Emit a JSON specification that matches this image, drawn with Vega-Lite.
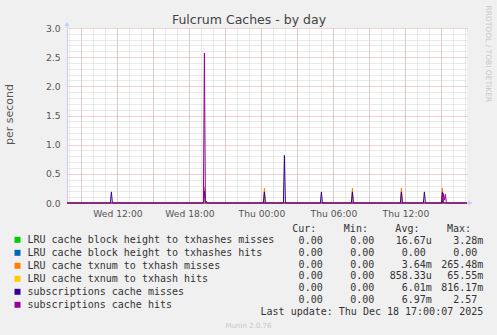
{
  "$schema": "https://vega.github.io/schema/vega-lite/v6.json",
  "autosize": {"type": "none"},
  "width": 400,
  "height": 175,
  "padding": {"left": 67, "top": 28, "right": 30, "bottom": 132},
  "background": "#F0F0F0",
  "config": {"view": {"stroke": null, "fill": "#FFFFFF"}},
  "data": {"values": [
      {"series": "LRU cache block height to txhashes misses", "t": "2025-12-17T07:48:00Z", "v": 0},
      {"series": "LRU cache block height to txhashes misses", "t": "2025-12-17T19:10:00Z", "v": 0},
      {"series": "LRU cache block height to txhashes misses", "t": "2025-12-17T19:15:00Z", "v": 0.0033},
      {"series": "LRU cache block height to txhashes misses", "t": "2025-12-17T19:20:00Z", "v": 0},
      {"series": "LRU cache block height to txhashes misses", "t": "2025-12-18T17:08:00Z", "v": 0},
      {"series": "LRU cache block height to txhashes hits", "t": "2025-12-17T07:48:00Z", "v": 0},
      {"series": "LRU cache block height to txhashes hits", "t": "2025-12-18T17:08:00Z", "v": 0},
      {"series": "LRU cache txnum to txhash misses", "t": "2025-12-17T07:48:00Z", "v": 0},
      {"series": "LRU cache txnum to txhash misses", "t": "2025-12-17T19:10:00Z", "v": 0},
      {"series": "LRU cache txnum to txhash misses", "t": "2025-12-17T19:15:00Z", "v": 0.265},
      {"series": "LRU cache txnum to txhash misses", "t": "2025-12-17T19:20:00Z", "v": 0},
      {"series": "LRU cache txnum to txhash misses", "t": "2025-12-18T00:10:00Z", "v": 0},
      {"series": "LRU cache txnum to txhash misses", "t": "2025-12-18T00:15:00Z", "v": 0.255},
      {"series": "LRU cache txnum to txhash misses", "t": "2025-12-18T00:20:00Z", "v": 0},
      {"series": "LRU cache txnum to txhash misses", "t": "2025-12-18T07:30:00Z", "v": 0},
      {"series": "LRU cache txnum to txhash misses", "t": "2025-12-18T07:35:00Z", "v": 0.255},
      {"series": "LRU cache txnum to txhash misses", "t": "2025-12-18T07:40:00Z", "v": 0},
      {"series": "LRU cache txnum to txhash misses", "t": "2025-12-18T11:35:00Z", "v": 0},
      {"series": "LRU cache txnum to txhash misses", "t": "2025-12-18T11:40:00Z", "v": 0.255},
      {"series": "LRU cache txnum to txhash misses", "t": "2025-12-18T11:45:00Z", "v": 0},
      {"series": "LRU cache txnum to txhash misses", "t": "2025-12-18T15:00:00Z", "v": 0},
      {"series": "LRU cache txnum to txhash misses", "t": "2025-12-18T15:05:00Z", "v": 0.255},
      {"series": "LRU cache txnum to txhash misses", "t": "2025-12-18T15:10:00Z", "v": 0},
      {"series": "LRU cache txnum to txhash misses", "t": "2025-12-18T17:08:00Z", "v": 0},
      {"series": "LRU cache txnum to txhash hits", "t": "2025-12-17T07:48:00Z", "v": 0},
      {"series": "LRU cache txnum to txhash hits", "t": "2025-12-17T19:10:00Z", "v": 0},
      {"series": "LRU cache txnum to txhash hits", "t": "2025-12-17T19:15:00Z", "v": 0.0655},
      {"series": "LRU cache txnum to txhash hits", "t": "2025-12-17T19:20:00Z", "v": 0},
      {"series": "LRU cache txnum to txhash hits", "t": "2025-12-18T00:10:00Z", "v": 0},
      {"series": "LRU cache txnum to txhash hits", "t": "2025-12-18T00:15:00Z", "v": 0.03},
      {"series": "LRU cache txnum to txhash hits", "t": "2025-12-18T00:20:00Z", "v": 0.012},
      {"series": "LRU cache txnum to txhash hits", "t": "2025-12-18T00:30:00Z", "v": 0.012},
      {"series": "LRU cache txnum to txhash hits", "t": "2025-12-18T00:35:00Z", "v": 0},
      {"series": "LRU cache txnum to txhash hits", "t": "2025-12-18T07:30:00Z", "v": 0},
      {"series": "LRU cache txnum to txhash hits", "t": "2025-12-18T07:35:00Z", "v": 0.03},
      {"series": "LRU cache txnum to txhash hits", "t": "2025-12-18T07:40:00Z", "v": 0},
      {"series": "LRU cache txnum to txhash hits", "t": "2025-12-18T11:35:00Z", "v": 0},
      {"series": "LRU cache txnum to txhash hits", "t": "2025-12-18T11:40:00Z", "v": 0.03},
      {"series": "LRU cache txnum to txhash hits", "t": "2025-12-18T11:45:00Z", "v": 0},
      {"series": "LRU cache txnum to txhash hits", "t": "2025-12-18T15:00:00Z", "v": 0},
      {"series": "LRU cache txnum to txhash hits", "t": "2025-12-18T15:05:00Z", "v": 0.03},
      {"series": "LRU cache txnum to txhash hits", "t": "2025-12-18T15:10:00Z", "v": 0},
      {"series": "LRU cache txnum to txhash hits", "t": "2025-12-18T17:08:00Z", "v": 0},
      {"series": "subscriptions cache misses", "t": "2025-12-17T07:48:00Z", "v": 0},
      {"series": "subscriptions cache misses", "t": "2025-12-17T11:25:00Z", "v": 0},
      {"series": "subscriptions cache misses", "t": "2025-12-17T11:30:00Z", "v": 0.19},
      {"series": "subscriptions cache misses", "t": "2025-12-17T11:35:00Z", "v": 0},
      {"series": "subscriptions cache misses", "t": "2025-12-17T19:10:00Z", "v": 0},
      {"series": "subscriptions cache misses", "t": "2025-12-17T19:15:00Z", "v": 0.2},
      {"series": "subscriptions cache misses", "t": "2025-12-17T19:20:00Z", "v": 0},
      {"series": "subscriptions cache misses", "t": "2025-12-18T00:10:00Z", "v": 0},
      {"series": "subscriptions cache misses", "t": "2025-12-18T00:15:00Z", "v": 0.19},
      {"series": "subscriptions cache misses", "t": "2025-12-18T00:20:00Z", "v": 0},
      {"series": "subscriptions cache misses", "t": "2025-12-18T01:50:00Z", "v": 0},
      {"series": "subscriptions cache misses", "t": "2025-12-18T01:55:00Z", "v": 0.816},
      {"series": "subscriptions cache misses", "t": "2025-12-18T02:00:00Z", "v": 0},
      {"series": "subscriptions cache misses", "t": "2025-12-18T04:55:00Z", "v": 0},
      {"series": "subscriptions cache misses", "t": "2025-12-18T05:00:00Z", "v": 0.19},
      {"series": "subscriptions cache misses", "t": "2025-12-18T05:05:00Z", "v": 0},
      {"series": "subscriptions cache misses", "t": "2025-12-18T07:30:00Z", "v": 0},
      {"series": "subscriptions cache misses", "t": "2025-12-18T07:35:00Z", "v": 0.19},
      {"series": "subscriptions cache misses", "t": "2025-12-18T07:40:00Z", "v": 0},
      {"series": "subscriptions cache misses", "t": "2025-12-18T11:35:00Z", "v": 0},
      {"series": "subscriptions cache misses", "t": "2025-12-18T11:40:00Z", "v": 0.19},
      {"series": "subscriptions cache misses", "t": "2025-12-18T11:45:00Z", "v": 0},
      {"series": "subscriptions cache misses", "t": "2025-12-18T13:30:00Z", "v": 0},
      {"series": "subscriptions cache misses", "t": "2025-12-18T13:35:00Z", "v": 0.19},
      {"series": "subscriptions cache misses", "t": "2025-12-18T13:40:00Z", "v": 0},
      {"series": "subscriptions cache misses", "t": "2025-12-18T15:00:00Z", "v": 0},
      {"series": "subscriptions cache misses", "t": "2025-12-18T15:05:00Z", "v": 0.19},
      {"series": "subscriptions cache misses", "t": "2025-12-18T15:10:00Z", "v": 0},
      {"series": "subscriptions cache misses", "t": "2025-12-18T17:08:00Z", "v": 0},
      {"series": "subscriptions cache hits", "t": "2025-12-17T07:48:00Z", "v": 0},
      {"series": "subscriptions cache hits", "t": "2025-12-17T19:10:00Z", "v": 0},
      {"series": "subscriptions cache hits", "t": "2025-12-17T19:15:00Z", "v": 2.57},
      {"series": "subscriptions cache hits", "t": "2025-12-17T19:20:00Z", "v": 0},
      {"series": "subscriptions cache hits", "t": "2025-12-17T19:25:00Z", "v": 0.03},
      {"series": "subscriptions cache hits", "t": "2025-12-17T19:30:00Z", "v": 0},
      {"series": "subscriptions cache hits", "t": "2025-12-18T15:05:00Z", "v": 0},
      {"series": "subscriptions cache hits", "t": "2025-12-18T15:10:00Z", "v": 0.16},
      {"series": "subscriptions cache hits", "t": "2025-12-18T15:15:00Z", "v": 0.05},
      {"series": "subscriptions cache hits", "t": "2025-12-18T15:20:00Z", "v": 0.15},
      {"series": "subscriptions cache hits", "t": "2025-12-18T15:25:00Z", "v": 0},
      {"series": "subscriptions cache hits", "t": "2025-12-18T17:08:00Z", "v": 0}
  ]},
  "layer": [
    {
      "transform": [{"filter": "datum.series == 'LRU cache block height to txhashes misses'"}],
      "mark": {"type": "line", "strokeWidth": 1},
      "encoding": {
        "x": {"field": "t", "type": "temporal", "scale": {"domain": [1765957680000, 1766077680000], "nice": false},
          "axis": {"orient": "bottom", "grid": true, "gridColor": "#D4D4D4", "gridDash": [1, 1], "values": [1765958400000, 1765962000000, 1765965600000, 1765969200000, 1765972800000, 1765976400000, 1765980000000, 1765983600000, 1765987200000, 1765990800000, 1765994400000, 1765998000000, 1766001600000, 1766005200000, 1766008800000, 1766012400000, 1766016000000, 1766019600000, 1766023200000, 1766026800000, 1766030400000, 1766034000000, 1766037600000, 1766041200000, 1766044800000, 1766048400000, 1766052000000, 1766055600000, 1766059200000, 1766062800000, 1766066400000, 1766070000000, 1766073600000, 1766077200000], "labels": false, "ticks": false, "domain": false, "title": null}},
        "y": {"field": "v", "type": "quantitative", "scale": {"domain": [0, 3], "nice": false},
          "axis": {"orient": "left", "grid": true, "gridColor": "#D4D4D4", "gridDash": [1, 1], "values": [0.1, 0.2, 0.3, 0.4, 0.6, 0.7, 0.8, 0.9, 1.1, 1.2, 1.3, 1.4, 1.6, 1.7, 1.8, 1.9, 2.1, 2.2, 2.3, 2.4, 2.6, 2.7, 2.8, 2.9], "labels": false, "ticks": false, "domain": false, "title": null}},
        "color": {"field": "series", "type": "nominal",
          "scale": {"domain": ["LRU cache block height to txhashes misses", "LRU cache block height to txhashes hits", "LRU cache txnum to txhash misses", "LRU cache txnum to txhash hits", "subscriptions cache misses", "subscriptions cache hits"], "range": ["#00CC00", "#0066B3", "#FF8000", "#FFCC00", "#330099", "#990099"]},
          "legend": {"orient": "none", "legendX": -54.5, "legendY": 206.8, "title": null, "symbolType": "square", "symbolSize": 9, "symbolStrokeWidth": 3, "labelFont": "DejaVu Sans Mono", "labelFontSize": 10, "labelColor": "#333333", "labelLimit": 400, "labelOffset": 5, "rowPadding": -4.3, "padding": 0}}
      }
    },
    {
      "transform": [{"filter": "datum.series == 'LRU cache block height to txhashes hits'"}],
      "mark": {"type": "line", "strokeWidth": 1},
      "encoding": {
        "x": {"field": "t", "type": "temporal", "scale": {"domain": [1765957680000, 1766077680000], "nice": false},
          "axis": {"orient": "top", "grid": true, "gridColor": "#E6A4A4", "gridDash": [1, 1], "values": [1765962000000, 1765972800000, 1765983600000, 1765994400000, 1766005200000, 1766016000000, 1766026800000, 1766037600000, 1766048400000, 1766059200000, 1766070000000], "labels": false, "ticks": false, "domain": false,
            "title": "Fulcrum Caches - by day", "titleFont": "DejaVu Sans", "titleFontSize": 12.5, "titleFontWeight": "normal", "titleColor": "#444444", "titleX": 181.5, "titleY": -5, "titleAlign": "center", "titleBaseline": "alphabetic", "titleAngle": 0}},
        "y": {"field": "v", "type": "quantitative", "scale": {"domain": [0, 3], "nice": false},
          "axis": {"orient": "right", "grid": true, "gridColor": "#E6A4A4", "gridDash": [1, 1], "values": [0.5, 1, 1.5, 2, 2.5, 3], "labels": false, "ticks": false, "domain": false,
            "title": "RRDTOOL / TOBI OETIKER", "titleFont": "DejaVu Sans", "titleFontSize": 7.5, "titleFontWeight": "normal", "titleColor": "#C8C8C8", "titleAngle": 90, "titleX": 18, "titleY": -23, "titleAlign": "left", "titleBaseline": "alphabetic"}},
        "color": {"field": "series", "type": "nominal",
          "scale": {"domain": ["LRU cache block height to txhashes misses", "LRU cache block height to txhashes hits", "LRU cache txnum to txhash misses", "LRU cache txnum to txhash hits", "subscriptions cache misses", "subscriptions cache hits"], "range": ["#00CC00", "#0066B3", "#FF8000", "#FFCC00", "#330099", "#990099"]}}
      }
    },
    {
      "transform": [{"filter": "datum.series == 'LRU cache txnum to txhash misses'"}],
      "mark": {"type": "line", "strokeWidth": 1},
      "encoding": {
        "x": {"field": "t", "type": "temporal", "scale": {"domain": [1765957680000, 1766077680000], "nice": false},
          "axis": {"orient": "bottom", "grid": false, "values": [1765972800000, 1765994400000, 1766016000000, 1766037600000, 1766059200000], "format": "%a %H:%M", "labelFont": "DejaVu Sans", "labelFontSize": 9.2, "labelColor": "#555555", "labelBaseline": "alphabetic", "labelPadding": 13, "labelOverlap": false, "labelFlush": false, "ticks": false, "domain": true, "domainColor": "#C8CCF4", "title": null}},
        "y": {"field": "v", "type": "quantitative", "scale": {"domain": [0, 3], "nice": false},
          "axis": {"orient": "left", "grid": false, "values": [0, 0.5, 1, 1.5, 2, 2.5, 3], "format": ".1f", "labelFont": "DejaVu Sans", "labelFontSize": 9.2, "labelColor": "#555555", "labelPadding": 7, "labelOverlap": false, "labelFlush": false, "ticks": false, "domain": true, "domainColor": "#C8CCF4",
            "title": "per second", "titleFont": "DejaVu Sans", "titleFontSize": 11, "titleFontWeight": "normal", "titleColor": "#555555", "titleAngle": -90, "titleX": -54.6, "titleY": 86, "titleAlign": "center", "titleBaseline": "alphabetic"}},
        "color": {"field": "series", "type": "nominal",
          "scale": {"domain": ["LRU cache block height to txhashes misses", "LRU cache block height to txhashes hits", "LRU cache txnum to txhash misses", "LRU cache txnum to txhash hits", "subscriptions cache misses", "subscriptions cache hits"], "range": ["#00CC00", "#0066B3", "#FF8000", "#FFCC00", "#330099", "#990099"]}}
      }
    },
    {
      "transform": [{"filter": "datum.series == 'LRU cache txnum to txhash hits'"}],
      "mark": {"type": "line", "strokeWidth": 1},
      "encoding": {
        "x": {"field": "t", "type": "temporal", "scale": {"domain": [1765957680000, 1766077680000], "nice": false}, "axis": null},
        "y": {"field": "v", "type": "quantitative", "scale": {"domain": [0, 3], "nice": false}, "axis": null},
        "color": {"field": "series", "type": "nominal",
          "scale": {"domain": ["LRU cache block height to txhashes misses", "LRU cache block height to txhashes hits", "LRU cache txnum to txhash misses", "LRU cache txnum to txhash hits", "subscriptions cache misses", "subscriptions cache hits"], "range": ["#00CC00", "#0066B3", "#FF8000", "#FFCC00", "#330099", "#990099"]}}
      }
    },
    {
      "transform": [{"filter": "datum.series == 'subscriptions cache misses'"}],
      "mark": {"type": "line", "strokeWidth": 1},
      "encoding": {
        "x": {"field": "t", "type": "temporal", "scale": {"domain": [1765957680000, 1766077680000], "nice": false}, "axis": null},
        "y": {"field": "v", "type": "quantitative", "scale": {"domain": [0, 3], "nice": false}, "axis": null},
        "color": {"field": "series", "type": "nominal",
          "scale": {"domain": ["LRU cache block height to txhashes misses", "LRU cache block height to txhashes hits", "LRU cache txnum to txhash misses", "LRU cache txnum to txhash hits", "subscriptions cache misses", "subscriptions cache hits"], "range": ["#00CC00", "#0066B3", "#FF8000", "#FFCC00", "#330099", "#990099"]}}
      }
    },
    {
      "transform": [{"filter": "datum.series == 'subscriptions cache hits'"}],
      "mark": {"type": "line", "strokeWidth": 1},
      "encoding": {
        "x": {"field": "t", "type": "temporal", "scale": {"domain": [1765957680000, 1766077680000], "nice": false}, "axis": null},
        "y": {"field": "v", "type": "quantitative", "scale": {"domain": [0, 3], "nice": false}, "axis": null},
        "color": {"field": "series", "type": "nominal",
          "scale": {"domain": ["LRU cache block height to txhashes misses", "LRU cache block height to txhashes hits", "LRU cache txnum to txhash misses", "LRU cache txnum to txhash hits", "subscriptions cache misses", "subscriptions cache hits"], "range": ["#00CC00", "#0066B3", "#FF8000", "#FFCC00", "#330099", "#990099"]}}
      }
    },
    {
      "data": {"values": [{"axis": "x"}]},
      "layer": [
        {
          "mark": {"type": "rule", "color": "#C8CCF4", "strokeWidth": 1},
          "encoding": {
            "x": {"datum": 1766077680000, "type": "temporal", "scale": {"domain": [1765957680000, 1766077680000], "nice": false}, "axis": null},
            "x2": {"datum": 1766078700000},
            "y": {"datum": 0, "type": "quantitative", "scale": {"domain": [0, 3], "nice": false}, "axis": null}
          }
        },
        {
          "mark": {"type": "point", "shape": "triangle-right", "filled": true, "size": 25, "color": "#C8CCF4", "opacity": 1},
          "encoding": {
            "x": {"datum": 1766078730000, "type": "temporal", "scale": {"domain": [1765957680000, 1766077680000], "nice": false}, "axis": null},
            "y": {"datum": 0, "type": "quantitative", "scale": {"domain": [0, 3], "nice": false}, "axis": null}
          }
        },
        {
          "mark": {"type": "rule", "color": "#C8CCF4", "strokeWidth": 1},
          "encoding": {
            "x": {"datum": 1765957680000, "type": "temporal", "scale": {"domain": [1765957680000, 1766077680000], "nice": false}, "axis": null},
            "y": {"datum": 3, "type": "quantitative", "scale": {"domain": [0, 3], "nice": false}, "axis": null},
            "y2": {"datum": 3.06}
          }
        },
        {
          "mark": {"type": "point", "shape": "triangle-up", "filled": true, "size": 25, "color": "#C8CCF4", "opacity": 1},
          "encoding": {
            "x": {"datum": 1765957680000, "type": "temporal", "scale": {"domain": [1765957680000, 1766077680000], "nice": false}, "axis": null},
            "y": {"datum": 3.069, "type": "quantitative", "scale": {"domain": [0, 3], "nice": false}, "axis": null}
          }
        }
      ]
    },
    {
      "data": {"values": [
        {"series": "LRU cache block height to txhashes misses", "col": "Cur", "num": "0.00", "unit": ""},
        {"series": "LRU cache block height to txhashes misses", "col": "Min", "num": "0.00", "unit": ""},
        {"series": "LRU cache block height to txhashes misses", "col": "Avg", "num": "16.67", "unit": "u"},
        {"series": "LRU cache block height to txhashes misses", "col": "Max", "num": "3.28", "unit": "m"},
        {"series": "LRU cache block height to txhashes hits", "col": "Cur", "num": "0.00", "unit": ""},
        {"series": "LRU cache block height to txhashes hits", "col": "Min", "num": "0.00", "unit": ""},
        {"series": "LRU cache block height to txhashes hits", "col": "Avg", "num": "0.00", "unit": ""},
        {"series": "LRU cache block height to txhashes hits", "col": "Max", "num": "0.00", "unit": ""},
        {"series": "LRU cache txnum to txhash misses", "col": "Cur", "num": "0.00", "unit": ""},
        {"series": "LRU cache txnum to txhash misses", "col": "Min", "num": "0.00", "unit": ""},
        {"series": "LRU cache txnum to txhash misses", "col": "Avg", "num": "3.64", "unit": "m"},
        {"series": "LRU cache txnum to txhash misses", "col": "Max", "num": "265.48", "unit": "m"},
        {"series": "LRU cache txnum to txhash hits", "col": "Cur", "num": "0.00", "unit": ""},
        {"series": "LRU cache txnum to txhash hits", "col": "Min", "num": "0.00", "unit": ""},
        {"series": "LRU cache txnum to txhash hits", "col": "Avg", "num": "858.33", "unit": "u"},
        {"series": "LRU cache txnum to txhash hits", "col": "Max", "num": "65.55", "unit": "m"},
        {"series": "subscriptions cache misses", "col": "Cur", "num": "0.00", "unit": ""},
        {"series": "subscriptions cache misses", "col": "Min", "num": "0.00", "unit": ""},
        {"series": "subscriptions cache misses", "col": "Avg", "num": "6.01", "unit": "m"},
        {"series": "subscriptions cache misses", "col": "Max", "num": "816.17", "unit": "m"},
        {"series": "subscriptions cache hits", "col": "Cur", "num": "0.00", "unit": ""},
        {"series": "subscriptions cache hits", "col": "Min", "num": "0.00", "unit": ""},
        {"series": "subscriptions cache hits", "col": "Avg", "num": "6.97", "unit": "m"},
        {"series": "subscriptions cache hits", "col": "Max", "num": "2.57", "unit": ""}
      ]},
      "layer": [
        {
          "mark": {"type": "text", "align": "right", "baseline": "alphabetic", "font": "DejaVu Sans Mono", "fontSize": 10, "color": "#333333"},
          "encoding": {
            "x": {"field": "col", "type": "nominal", "scale": {"type": "point", "domain": ["Cur", "Min", "Avg", "Max"], "range": [255.7, 410.3], "padding": 0}, "axis": null},
            "y": {"field": "series", "type": "nominal", "scale": {"type": "point", "domain": ["head", "LRU cache block height to txhashes misses", "LRU cache block height to txhashes hits", "LRU cache txnum to txhash misses", "LRU cache txnum to txhash hits", "subscriptions cache misses", "subscriptions cache hits", "update"], "range": [203.7, 287.3], "padding": 0}, "axis": null},
            "text": {"field": "num"}
          }
        },
        {
          "mark": {"type": "text", "align": "left", "baseline": "alphabetic", "font": "DejaVu Sans Mono", "fontSize": 10, "color": "#333333"},
          "encoding": {
            "x": {"field": "col", "type": "nominal", "scale": {"type": "point", "domain": ["Cur", "Min", "Avg", "Max"], "range": [255.7, 410.3], "padding": 0}, "axis": null},
            "y": {"field": "series", "type": "nominal", "scale": {"type": "point", "domain": ["head", "LRU cache block height to txhashes misses", "LRU cache block height to txhashes hits", "LRU cache txnum to txhash misses", "LRU cache txnum to txhash hits", "subscriptions cache misses", "subscriptions cache hits", "update"], "range": [203.7, 287.3], "padding": 0}, "axis": null},
            "text": {"field": "unit"}
          }
        }
      ]
    },
    {
      "data": {"values": [
        {"col": "Cur", "row": "head", "label": "Cur:"},
        {"col": "Min", "row": "head", "label": "Min:"},
        {"col": "Avg", "row": "head", "label": "Avg:"},
        {"col": "Max", "row": "head", "label": "Max:"}
      ]},
      "mark": {"type": "text", "align": "right", "baseline": "alphabetic", "dx": -6.3, "font": "DejaVu Sans Mono", "fontSize": 10, "color": "#333333"},
      "encoding": {
        "x": {"field": "col", "type": "nominal", "scale": {"type": "point", "domain": ["Cur", "Min", "Avg", "Max"], "range": [255.7, 410.3], "padding": 0}, "axis": null},
        "y": {"field": "row", "type": "nominal", "scale": {"type": "point", "domain": ["head", "LRU cache block height to txhashes misses", "LRU cache block height to txhashes hits", "LRU cache txnum to txhash misses", "LRU cache txnum to txhash hits", "subscriptions cache misses", "subscriptions cache hits", "update"], "range": [203.7, 287.3], "padding": 0}, "axis": null},
        "text": {"field": "label"}
      }
    },
    {
      "data": {"values": [{"col": "Max", "row": "update", "label": "Last update: Thu Dec 18 17:00:07 2025"}]},
      "mark": {"type": "text", "align": "right", "baseline": "alphabetic", "dx": 6, "font": "DejaVu Sans Mono", "fontSize": 10, "color": "#333333"},
      "encoding": {
        "x": {"field": "col", "type": "nominal", "scale": {"type": "point", "domain": ["Cur", "Min", "Avg", "Max"], "range": [255.7, 410.3], "padding": 0},
          "axis": {"orient": "bottom", "labels": false, "ticks": false, "domain": false, "grid": false,
            "title": "Munin 2.0.76", "titleFont": "DejaVu Sans", "titleFontSize": 7, "titleFontWeight": "normal", "titleColor": "#C8C8C8", "titleX": 181, "titleY": 124, "titleAlign": "center", "titleBaseline": "alphabetic", "titleAngle": 0}},
        "y": {"field": "row", "type": "nominal", "scale": {"type": "point", "domain": ["head", "LRU cache block height to txhashes misses", "LRU cache block height to txhashes hits", "LRU cache txnum to txhash misses", "LRU cache txnum to txhash hits", "subscriptions cache misses", "subscriptions cache hits", "update"], "range": [203.7, 287.3], "padding": 0}, "axis": null},
        "text": {"field": "label"}
      }
    }
  ],
  "resolve": {"scale": {"x": "independent", "y": "independent"}}
}
